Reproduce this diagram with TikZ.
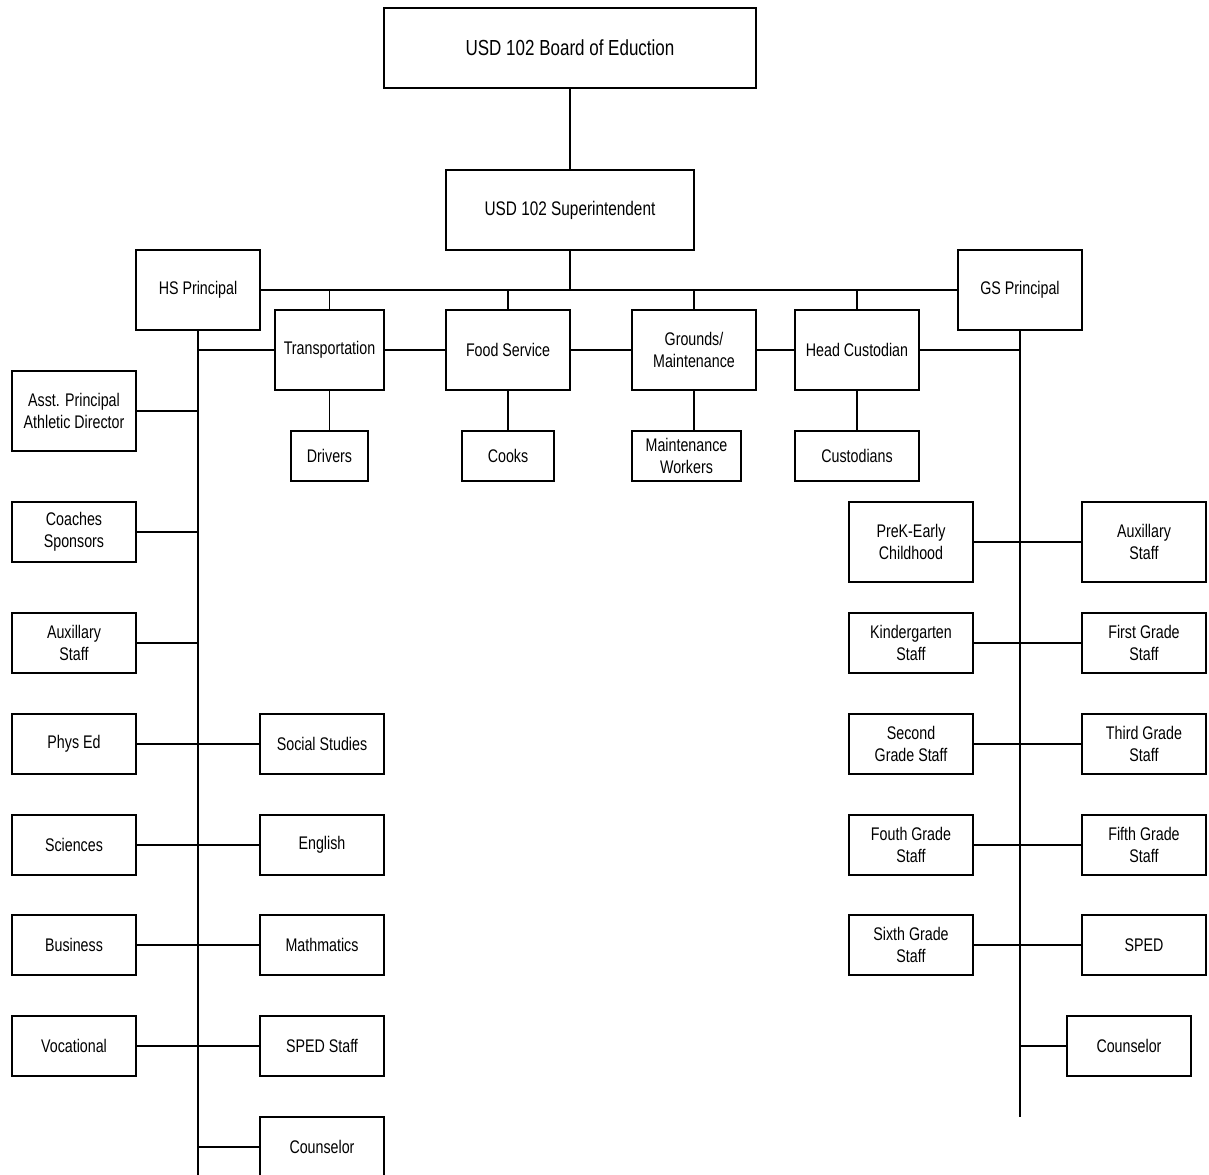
\documentclass[tikz,border=0pt]{standalone}
\usepackage{fontspec}
\setmainfont{Liberation Sans}[FakeStretch=0.78]
\usepackage{tikz}

\tikzset{
    box/.style={draw, line width=1.1pt, align=center, inner sep=0pt,
        minimum width=3.1cm, minimum height=1.5cm,
        font=\fontsize{13}{15.6}\selectfont},
    tall/.style={box, minimum height=2cm},
    small/.style={box, minimum height=1.25cm},
    link/.style={line width=1.1pt}
}

\begin{document}
\begin{tikzpicture}[x=0.025cm, y=-0.025cm]
        \useasboundingbox (0, 0) rectangle (1209, 1175);
        % top of the chart
        \node [tall, minimum width=9.3cm, font=\fontsize{15.5}{18}\selectfont] (board) at (570, 48) {USD 102 Board of Eduction};
        \node [tall, minimum width=6.2cm, font=\fontsize{14}{17}\selectfont] (super) at (570, 210) {USD 102 Superintendent};
        \node [tall] (hs) at (198, 290) {HS Principal};
        \node [tall] (gs) at (1020, 290) {GS Principal};
        \node [tall, minimum width=2.725cm] (trans) at (329.5, 350) {Transportation};
        \node [tall] (food) at (508, 350) {Food Service};
        \node [tall] (grounds) at (694, 350) {Grounds/\\Maintenance};
        \node [tall] (head) at (857, 350) {Head Custodian};
        \node [small, minimum width=1.925cm] (drivers) at (329.5, 456) {Drivers};
        \node [small, minimum width=2.3cm] (cooks) at (508, 456) {Cooks};
        \node [small, minimum width=2.725cm] (mworkers) at (686.5, 456) {Maintenance\\Workers};
        \node [small] (custodians) at (857, 456) {Custodians};
        \coordinate (hsend) at (198, 1175);
        \coordinate (gsend) at (1020, 1117);

        % high school side
        \node [tall] (asst) at (74, 411) {Asst. Principal\\Athletic Director};
        \node [box] (coaches) at (74, 532) {Coaches\\Sponsors};
        \node [box] (hsaux) at (74, 643) {Auxillary\\Staff};
        \node [box] (physed) at (74, 744) {Phys Ed};
        \node [box] (sciences) at (74, 845) {Sciences};
        \node [box] (business) at (74, 945) {Business};
        \node [box] (vocational) at (74, 1046) {Vocational};
        \node [box] (social) at (322, 744) {Social Studies};
        \node [box] (english) at (322, 845) {English};
        \node [box] (math) at (322, 945) {Mathmatics};
        \node [box] (spedstaff) at (322, 1046) {SPED Staff};
        \node [box] (hscoun) at (322, 1147) {Counselor};

        % grade school side
        \node [tall] (prek) at (911, 542) {PreK-Early\\Childhood};
        \node [tall] (gsaux) at (1144, 542) {Auxillary\\Staff};
        \node [box] (kinder) at (911, 643) {Kindergarten\\Staff};
        \node [box] (first) at (1144, 643) {First Grade\\Staff};
        \node [box] (second) at (911, 744) {Second\\Grade Staff};
        \node [box] (third) at (1144, 744) {Third Grade\\Staff};
        \node [box] (fourth) at (911, 845) {Fouth Grade\\Staff};
        \node [box] (fifth) at (1144, 845) {Fifth Grade\\Staff};
        \node [box] (sixth) at (911, 945) {Sixth Grade\\Staff};
        \node [box] (sped) at (1144, 945) {SPED};
        \node [box] (gscoun) at (1129, 1046) {Counselor};

        % connectors
        \draw [link] (board) -- (super);
        \draw [link] (super) -- (super |- hs);
        \draw [link] (hs) -- (gs);
        \foreach \n in {trans, food, grounds, head}
            \draw [link] (\n) -- (\n |- hs);
        \draw [link] (hs |- trans) -- (trans) -- (food) -- (grounds) -- (head) -- (gs |- head);
        \draw [link] (trans) -- (drivers);
        \draw [link] (food) -- (cooks);
        \draw [link] (grounds.south) -- (grounds.south |- mworkers.north);
        \draw [link] (head) -- (custodians);
        \draw [link] (hs) -- (hsend);
        \draw [link] (gs) -- (gsend);
        \foreach \n in {asst, coaches, hsaux}
            \draw [link] (\n) -- (\n -| hs);
        \foreach \a/\b in {physed/social, sciences/english, business/math, vocational/spedstaff,
            prek/gsaux, kinder/first, second/third, fourth/fifth, sixth/sped}
            \draw [link] (\a) -- (\b);
        \draw [link] (hscoun) -- (hscoun -| hs);
        \draw [link] (gscoun) -- (gscoun -| gs);
    \end{tikzpicture}
\end{document}
